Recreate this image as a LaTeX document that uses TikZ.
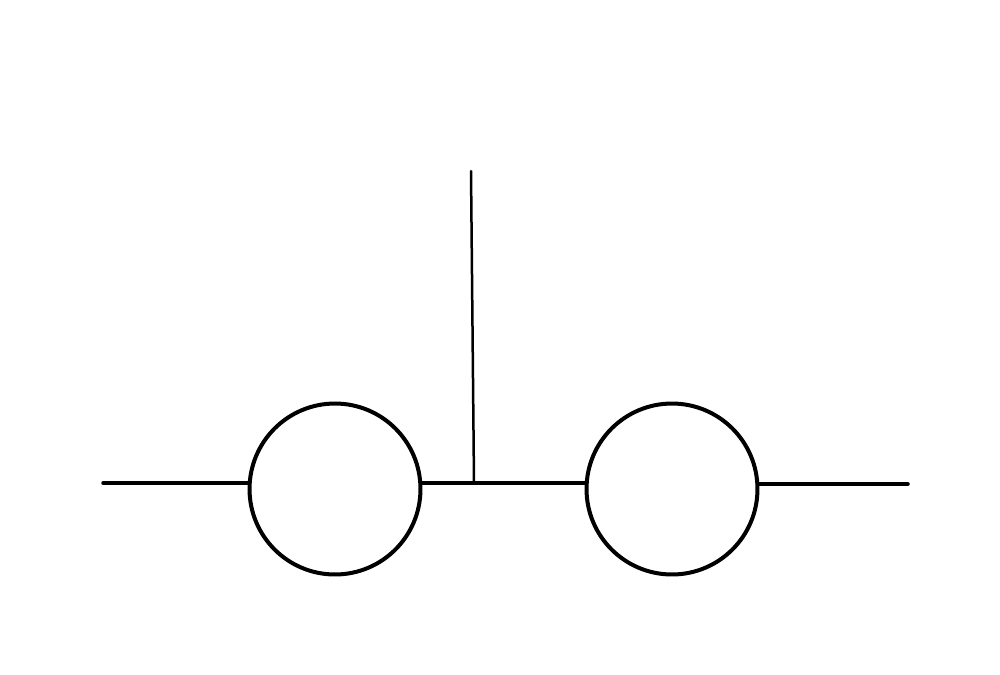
\documentclass[tikz,border=0pt]{standalone}
\begin{document}
\begin{tikzpicture}[x=0.02cm,y=-0.02cm,
  ring/.style={circle,draw,line width=0.08cm,minimum size=3.42cm,inner sep=0pt,outer sep=0pt},
  wire/.style={line width=0.07cm,line cap=round},
  thinwire/.style={line width=0.05cm,line cap=round}]
\useasboundingbox (0,0) rectangle (1000,674);
\node[ring] (c1) at (335,489) {};
\node[ring] (c2) at (672,489) {};
\coordinate (L) at (103,483);
\coordinate (R) at (908,484);
\coordinate (J) at (474,483);
\coordinate (T) at (471,171);
\draw[wire] (L) -- (L -| c1.west);
\draw[wire] (c1.east |- J) -- (c2.west |- J);
\draw[wire] (c2.east |- R) -- (R);
\draw[thinwire] (T) -- (J);
\end{tikzpicture}
\end{document}
